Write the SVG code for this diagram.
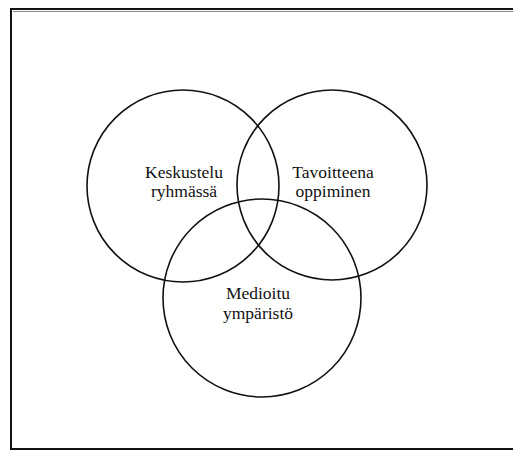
<svg xmlns="http://www.w3.org/2000/svg" width="513" height="450" viewBox="0 0 513 450">
  <style>
    .ring { fill: none; stroke: #111; stroke-width: 1.6; }
    .lbl { font-family: "Liberation Serif", "Times New Roman", serif; font-size: 17.5px; fill: #111; text-anchor: middle; }
    .frame { fill: none; stroke: #111; stroke-width: 2; }
  </style>
  <rect width="513" height="450" fill="#fff"/>
  <!-- outer frame (open on the right) -->
  <path class="frame" d="M520 9 H11 V449 H520"/>
  <path d="M13 11.5 H520" stroke="#888" stroke-width="1" fill="none"/>

  <g id="keskustelu">
    <circle class="ring" cx="183" cy="186" r="96"/>
    <text class="lbl" x="184" y="178">Keskustelu</text>
    <text class="lbl" x="184" y="197">ryhmässä</text>
  </g>
  <g id="tavoitteena">
    <circle class="ring" cx="332" cy="185" r="95"/>
    <text class="lbl" x="333" y="178">Tavoitteena</text>
    <text class="lbl" x="333" y="197">oppiminen</text>
  </g>
  <g id="medioitu">
    <circle class="ring" cx="262" cy="298" r="99"/>
    <text class="lbl" x="258" y="299">Medioitu</text>
    <text class="lbl" x="258" y="319">ympäristö</text>
  </g>
  <g id="connectors"/>
</svg>
